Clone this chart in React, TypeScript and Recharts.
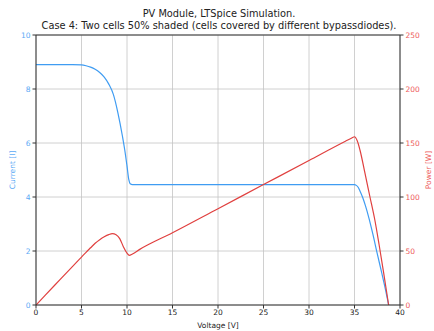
import React from 'react';
import { LineChart, Line, XAxis, YAxis, CartesianGrid, ReferenceLine, Label } from 'recharts';

const titleLines = ['PV Module, LTSpice Simulation.', 'Case 4: Two cells 50% shaded (cells covered by different bypassdiodes).'];

const currentV = [0, 2, 4, 5, 5.5, 6, 6.5, 7, 7.5, 8, 8.5, 9, 9.5, 9.75, 10, 10.2, 10.35, 10.6, 12, 15, 20, 25, 30, 34, 35, 35.2, 35.4, 35.6, 35.9, 36.2, 36.6, 37, 37.5, 38, 38.4, 38.75];
const current = [8.9, 8.9, 8.9, 8.89, 8.86, 8.81, 8.73, 8.61, 8.44, 8.18, 7.8, 7.12, 6.25, 5.75, 5.15, 4.64, 4.49, 4.46, 4.46, 4.46, 4.46, 4.46, 4.46, 4.46, 4.46, 4.43, 4.36, 4.22, 3.98, 3.68, 3.2, 2.65, 1.9, 1.18, 0.58, 0];

const powerV = [0, 2, 4, 5, 5.5, 6, 6.5, 7, 7.5, 8, 8.4, 8.8, 9.2, 9.6, 10, 10.25, 10.6, 11.4, 15, 20, 25, 30, 34, 34.7, 35, 35.3, 35.6, 36.15, 36.7, 37.25, 37.7, 38.2, 38.75];
const power = [0, 17.8, 35.6, 44.4, 48.8, 53, 57.2, 60.5, 63.2, 65.2, 66, 65, 61.5, 54, 48, 46, 47.3, 51.5, 66.9, 89.2, 111.5, 133.8, 151.6, 154.6, 155.8, 152, 143.5, 122, 100, 78, 56, 30, 0];

const voltageTicks = [0, 5, 10, 15, 20, 25, 30, 35, 40];
const currentTicks = [0, 2, 4, 6, 8, 10];
const powerTicks = [0, 50, 100, 150, 200, 250];

const currentData = currentV.map((v, k) => ({ v, i: current[k] }));
const powerData = powerV.map((v, k) => ({ v, p: power[k] }));

const FONT = '"DejaVu Sans", sans-serif';
const BLUE = '#3f9cf2';
const RED = '#e0403f';
const BLUE_TXT = '#5aa9f5';
const RED_TXT = '#ee5a5a';

export default function App() {
  return (
    <div style={{ position: 'absolute', left: 0, top: 0, width: 434, height: 331, background: '#fff', fontFamily: FONT }}>
      <div style={{ position: 'absolute', left: 0, top: 8, width: 438, textAlign: 'center', fontSize: 9.8, lineHeight: '11.5px', color: '#222' }}>
        {titleLines.map((t, k) => (<div key={k}>{t}</div>))}
      </div>
      <LineChart width={434} height={331} margin={{ top: 35, right: 0, bottom: 0, left: 0 }}>
        <CartesianGrid stroke="#c4c4c4" strokeWidth={0.8} yAxisId="left" horizontalValues={currentTicks} verticalValues={voltageTicks} />
        <XAxis dataKey="v" type="number" domain={[0, 40]} ticks={voltageTicks} allowDataOverflow
          height={26} tickSize={3.5} tickMargin={1} stroke="#333"
          tick={{ fontSize: 7.5, fill: '#222', fontFamily: FONT }}>
          <Label value="Voltage [V]" position="insideBottom" offset={3} style={{ fontSize: 7.5, fill: '#222', fontFamily: FONT }} />
        </XAxis>
        <YAxis yAxisId="left" orientation="left" domain={[0, 10]} ticks={currentTicks} width={36}
          tickSize={3.5} tickMargin={2} stroke="#333" tickLine={{ stroke: '#333' }}
          tick={{ fontSize: 7.5, fill: BLUE_TXT, fontFamily: FONT }}>
          <Label value="Current [I]" angle={-90} position="insideLeft" offset={12} style={{ fontSize: 7.5, fill: BLUE_TXT, fontFamily: FONT, textAnchor: 'middle' }} />
        </YAxis>
        <YAxis yAxisId="right" orientation="right" domain={[0, 250]} ticks={powerTicks} width={34}
          tickSize={3.5} tickMargin={2} stroke="#333" tickLine={{ stroke: '#333' }}
          tick={{ fontSize: 7.5, fill: RED_TXT, fontFamily: FONT }}>
          <Label value="Power [W]" angle={-90} position="insideRight" offset={6} style={{ fontSize: 7.5, fill: RED_TXT, fontFamily: FONT, textAnchor: 'middle' }} />
        </YAxis>
        <ReferenceLine yAxisId="left" y={10} stroke="#333" strokeWidth={1} />
        <Line yAxisId="left" data={currentData} dataKey="i" type="monotone" stroke={BLUE} strokeWidth={1.2} dot={false} isAnimationActive={false} />
        <Line yAxisId="right" data={powerData} dataKey="p" type="monotone" stroke={RED} strokeWidth={1.2} dot={false} isAnimationActive={false} />
      </LineChart>
    </div>
  );
}
